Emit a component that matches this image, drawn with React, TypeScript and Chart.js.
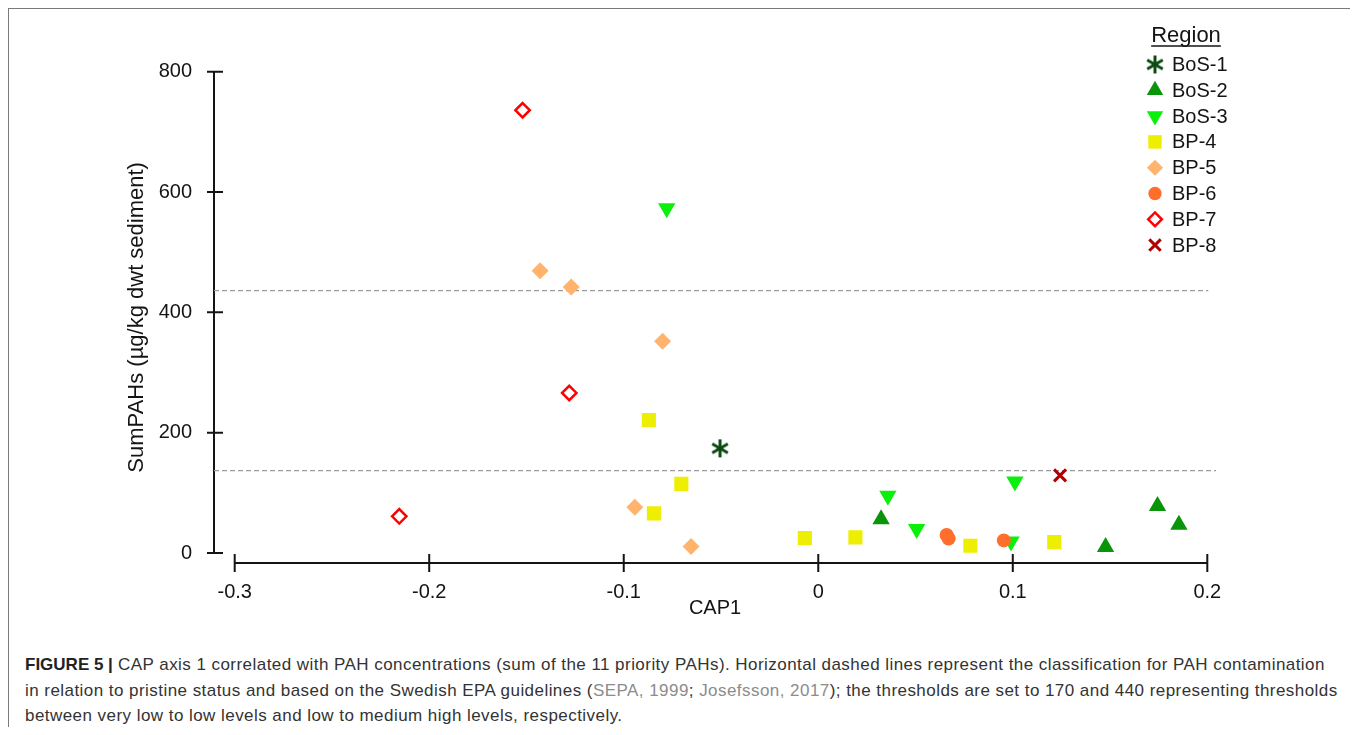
import React, { useEffect, useRef } from 'react';
import { Chart, registerables } from 'chart.js';
import { drawPoint } from 'chart.js/helpers';

Chart.register(...registerables);

// ---------- data ----------
const seriesNames = ['BoS-1', 'BoS-2', 'BoS-3', 'BP-4', 'BP-5', 'BP-6', 'BP-7', 'BP-8'];
const bos1: number[][] = [[-0.0505, 174]];
const bos2: number[][] = [[0.0323, 56], [0.1477, 10], [0.1744, 78], [0.1854, 47]];
const bos3: number[][] = [[-0.0779, 573], [0.0358, 95], [0.0506, 40], [0.0991, 19], [0.1011, 119]];
const bp4: number[][] = [[-0.0871, 221], [-0.0704, 115], [-0.0845, 66], [-0.0069, 25], [0.0191, 26], [0.0782, 12], [0.1213, 18]];
const bp5: number[][] = [[-0.143, 469], [-0.127, 442], [-0.08, 352], [-0.0943, 76], [-0.0654, 11]];
const bp6: number[][] = [[0.066, 30], [0.067, 24], [0.0954, 21]];
const bp7: number[][] = [[-0.152, 736], [-0.128, 266], [-0.2154, 61]];
const bp8: number[][] = [[0.1243, 129]];
const seriesData = [bos1, bos2, bos3, bp4, bp5, bp6, bp7, bp8];

const thresholds = [137, 436];
const thresholdEnds = [0.2045, 0.2005];
const xTicks = [-0.3, -0.2, -0.1, 0, 0.1, 0.2];
const yTicks = [0, 200, 400, 600, 800];
const xMin = -0.31064;
const xMax = 0.20447;
const yMin = -16.6;
const yMax = 800;

const FONT = '"Liberation Sans", Arial, Helvetica, sans-serif';
const INK = '#141414';

function makeAsterisk(size: number, color: string, lw: number) {
  const c = document.createElement('canvas');
  c.width = size;
  c.height = size;
  const ctx = c.getContext('2d')!;
  ctx.strokeStyle = color;
  ctx.lineWidth = lw;
  const r = size / 2 - 1;
  const cx = size / 2;
  const cy = size / 2;
  for (const a of [90, 30, 150]) {
    const rad = (a * Math.PI) / 180;
    ctx.beginPath();
    ctx.moveTo(cx - Math.cos(rad) * r, cy - Math.sin(rad) * r);
    ctx.lineTo(cx + Math.cos(rad) * r, cy + Math.sin(rad) * r);
    ctx.stroke();
  }
  return c;
}

function makeStyles() {
  return [
    { pointStyle: makeAsterisk(20, '#0c4a12', 3), rotation: 0, radius: 10, bg: '#0c4a12', border: '#0c4a12', bw: 0 },
    { pointStyle: 'triangle', rotation: 0, radius: 10, bg: '#0a940a', border: '#0a940a', bw: 0 },
    { pointStyle: 'triangle', rotation: 180, radius: 10, bg: '#0af00a', border: '#0af00a', bw: 0 },
    { pointStyle: 'rect', rotation: 0, radius: 10, bg: '#eeee00', border: '#eeee00', bw: 0 },
    { pointStyle: 'rectRot', rotation: 0, radius: 8.5, bg: '#ffb36d', border: '#ffb36d', bw: 0 },
    { pointStyle: 'circle', rotation: 0, radius: 7, bg: '#ff6e2b', border: '#ff6e2b', bw: 0 },
    { pointStyle: 'rectRot', rotation: 0, radius: 7.2, bg: '#ffffff', border: '#ff0000', bw: 2.5 },
    { pointStyle: 'crossRot', rotation: 0, radius: 8.5, bg: '#b00000', border: '#b00000', bw: 3 },
  ];
}

const axesPlugin = {
  id: 'detachedAxes',
  beforeDatasetsDraw(chart: any) {
    const { ctx, chartArea } = chart;
    const xs = chart.scales.x;
    const ys = chart.scales.y;
    const left = chartArea.left;
    const bottom = chartArea.bottom;
    ctx.save();
    ctx.strokeStyle = INK;
    ctx.lineWidth = 2;
    ctx.beginPath();
    ctx.moveTo(left, ys.getPixelForValue(yTicks[0]));
    ctx.lineTo(left, ys.getPixelForValue(yTicks[yTicks.length - 1]));
    for (const t of yTicks) {
      const p = ys.getPixelForValue(t);
      ctx.moveTo(left - 7, p);
      ctx.lineTo(left + 9, p);
    }
    ctx.moveTo(xs.getPixelForValue(xTicks[0]), bottom);
    ctx.lineTo(xs.getPixelForValue(xTicks[xTicks.length - 1]), bottom);
    for (const t of xTicks) {
      const p = xs.getPixelForValue(t);
      ctx.moveTo(p, bottom - 9);
      ctx.lineTo(p, bottom + 9);
    }
    ctx.stroke();
    ctx.restore();
  },
};

function makeLegendPlugin(styles: any[]) {
  return {
    id: 'regionLegend',
    afterDraw(chart: any) {
      const ctx = chart.ctx;
      ctx.save();
      ctx.fillStyle = INK;
      ctx.font = `22px ${FONT}`;
      ctx.textAlign = 'center';
      ctx.textBaseline = 'middle';
      const tx = 1177;
      const ty = 27;
      ctx.fillText('Region', tx, ty);
      const w = ctx.measureText('Region').width;
      ctx.strokeStyle = INK;
      ctx.lineWidth = 1.5;
      ctx.beginPath();
      ctx.moveTo(tx - w / 2, ty + 10);
      ctx.lineTo(tx + w / 2, ty + 10);
      ctx.stroke();
      ctx.font = `20px ${FONT}`;
      ctx.textAlign = 'left';
      seriesNames.forEach((name, i) => {
        const st = styles[i];
        const y = 55.5 + 25.8 * i;
        ctx.fillStyle = st.bg;
        ctx.strokeStyle = st.border;
        ctx.lineWidth = st.bw;
        drawPoint(ctx, { pointStyle: st.pointStyle, rotation: st.rotation, radius: st.radius * 0.95, borderWidth: st.bw }, 1146, y);
        ctx.fillStyle = INK;
        ctx.fillText(name, 1163, y + 1);
      });
      ctx.restore();
    },
  };
}

function ScatterChart() {
  const ref = useRef<HTMLCanvasElement | null>(null);
  useEffect(() => {
    if (!ref.current) return;
    const styles = makeStyles();
    const datasets: any[] = seriesData.map((pts, i) => ({
      type: 'scatter',
      label: seriesNames[i],
      data: pts.map(([x, y]) => ({ x, y })),
      pointStyle: styles[i].pointStyle,
      rotation: styles[i].rotation,
      pointRadius: styles[i].radius,
      backgroundColor: styles[i].bg,
      borderColor: styles[i].border,
      borderWidth: styles[i].bw,
      order: 20 - i,
    }));
    thresholds.forEach((t, i) => {
      datasets.push({
        type: 'line',
        label: 'threshold ' + t,
        data: [{ x: xMin, y: t }, { x: thresholdEnds[i], y: t }],
        borderColor: '#9a9a9a',
        borderWidth: 1.3,
        borderDash: [5, 3],
        pointRadius: 0,
        fill: false,
        order: 100,
      });
    });
    const chart = new Chart(ref.current, {
      type: 'scatter',
      data: { datasets },
      plugins: [axesPlugin, makeLegendPlugin(styles)],
      options: {
        animation: false,
        responsive: false,
        maintainAspectRatio: false,
        events: [],
        layout: { padding: { left: 0, top: 62.7, right: 133, bottom: 6 } },
        plugins: { legend: { display: false }, tooltip: { enabled: false } },
        scales: {
          x: {
            type: 'linear',
            min: xMin,
            max: xMax,
            grid: { display: false },
            border: { display: false },
            afterBuildTicks: (s: any) => {
              s.ticks = xTicks.map((v) => ({ value: v }));
            },
            afterFit: (s: any) => {
              s.height = 70;
              s.paddingLeft = 0;
              s.paddingRight = 0;
            },
            ticks: {
              padding: 9,
              color: INK,
              font: { family: FONT, size: 20 },
              maxRotation: 0,
              autoSkip: false,
              callback: (v: any) => String(v),
            },
            title: {
              display: true,
              text: 'CAP1',
              color: INK,
              font: { family: FONT, size: 20 },
              padding: { top: 0, bottom: 13 },
            },
          },
          y: {
            type: 'linear',
            min: yMin,
            max: yMax,
            grid: { display: false },
            border: { display: false },
            afterBuildTicks: (s: any) => {
              s.ticks = yTicks.map((v) => ({ value: v }));
            },
            afterFit: (s: any) => {
              s.width = 205;
              s.paddingTop = 0;
              s.paddingBottom = 0;
            },
            ticks: {
              padding: 14,
              color: INK,
              font: { family: FONT, size: 20 },
              autoSkip: false,
              callback: (v: any) => String(v),
            },
            title: {
              display: true,
              text: 'SumPAHs (µg/kg dwt sediment)',
              color: INK,
              font: { family: FONT, size: 22 },
              padding: { top: 114.8, bottom: 0 },
            },
          },
        },
      } as any,
    });
    return () => chart.destroy();
  }, []);
  return <canvas ref={ref} width={1340} height={630} style={{ display: 'block', width: 1340, height: 630 }} />;
}

export default function App() {
  const cite = { color: '#8c8c8c' };
  const line: React.CSSProperties = { whiteSpace: 'nowrap', height: 25.5, lineHeight: '25.5px' };
  return (
    <div
      style={{
        width: 1345,
        height: 727,
        marginBottom: -8,
        boxSizing: 'border-box',
        borderTop: '1px solid #7a7a7a',
        borderLeft: '1px solid #7a7a7a',
        borderRight: '1px solid #7a7a7a',
        background: '#fff',
        overflow: 'hidden',
      }}
    >
      <ScatterChart />
      <div style={{ marginTop: 13, paddingLeft: 16, fontFamily: FONT, fontSize: 17, letterSpacing: 0.45, color: '#333' }}>
        <div style={line}>
          <b style={{ color: '#222', letterSpacing: 0 }}>FIGURE 5 |</b> CAP axis 1 correlated with PAH concentrations (sum of the 11 priority PAHs). Horizontal dashed lines represent the classification for PAH contamination
        </div>
        <div style={line}>
          in relation to pristine status and based on the Swedish EPA guidelines (<span style={cite}>SEPA, 1999</span>; <span style={cite}>Josefsson, 2017</span>); the thresholds are set to 170 and 440 representing thresholds
        </div>
        <div style={line}>between very low to low levels and low to medium high levels, respectively.</div>
      </div>
    </div>
  );
}
